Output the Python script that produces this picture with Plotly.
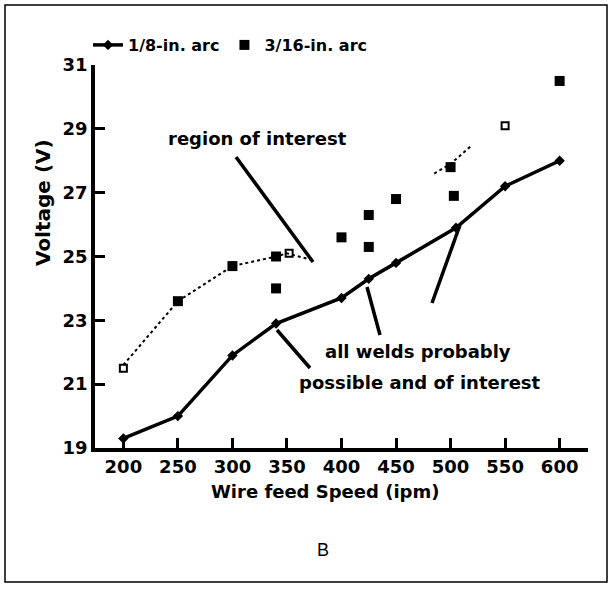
import plotly.graph_objects as go

# 1/8-in. arc (solid line with markers)
arc18_speed = [200, 250, 300, 340, 400, 425, 450, 505, 550, 600]
arc18_volt = [19.3, 20.0, 21.9, 22.9, 23.7, 24.3, 24.8, 25.9, 27.2, 28.0]

# 3/16-in. arc (filled square markers)
arc316_speed = [250, 300, 340, 340, 400, 425, 425, 450, 500, 503, 600]
arc316_volt = [23.6, 24.7, 25.0, 24.0, 25.6, 26.3, 25.3, 26.8, 27.8, 26.9, 30.5]
# 3/16-in. arc (small open squares)
arc316o_speed = [200, 352, 550]
arc316o_volt = [21.5, 25.1, 29.1]

# dotted boundary of region of interest
bound_speed = [200, 250, 300, 340, 350, 372]
bound_volt = [21.6, 23.6, 24.7, 25.0, 25.1, 24.9]
bound2_speed = [485, 500, 520]
bound2_volt = [27.6, 27.9, 28.5]

x_ticks = [200, 250, 300, 350, 400, 450, 500, 550, 600]
y_ticks = [19, 21, 23, 25, 27, 29, 31]

FONT = "DejaVu Sans"
L, T, W, H = 95, 65, 493, 383


def px(x):
    return (x - L) / W


def py(y):
    return (T + H - y) / H


fig = go.Figure()
fig.add_trace(go.Scatter(
    x=bound_speed, y=bound_volt, mode="lines", showlegend=False,
    line=dict(color="black", width=2, dash="dot"), hoverinfo="skip"))
fig.add_trace(go.Scatter(
    x=bound2_speed, y=bound2_volt, mode="lines", showlegend=False,
    line=dict(color="black", width=2, dash="dot"), hoverinfo="skip"))
fig.add_trace(go.Scatter(
    x=arc18_speed, y=arc18_volt, mode="lines+markers", name="<b>1/8-in. arc</b>",
    line=dict(color="black", width=3.5),
    marker=dict(symbol="diamond", size=8, color="black", opacity=1)))
fig.add_trace(go.Scatter(
    x=arc316_speed, y=arc316_volt, mode="markers", name="<b>3/16-in. arc</b>",
    marker=dict(symbol="square", size=10, color="black", opacity=1)))
fig.add_trace(go.Scatter(
    x=arc316o_speed, y=arc316o_volt, mode="markers", showlegend=False,
    marker=dict(symbol="square-open", size=7, color="black", opacity=1,
                line=dict(color="black", width=2))))

# pointer lines
for (tx, ty, hx, hy) in [(236, 157, 313, 262), (310, 368, 277, 330),
                         (380, 335, 367, 287), (432, 303, 460, 225)]:
    fig.add_shape(type="line", xref="paper", yref="paper",
                  x0=px(tx), y0=py(ty), x1=px(hx), y1=py(hy),
                  line=dict(color="black", width=3.5))


def label(x, y, text, size, angle=0, family=FONT):
    fig.add_annotation(xref="paper", yref="paper", x=px(x), y=py(y),
                       xanchor="center", yanchor="middle", textangle=angle,
                       text=text, showarrow=False,
                       font=dict(family=family, size=size, color="black"))


label(257, 138, "<b>region of interest</b>", 18)
label(418, 351, "<b>all welds probably</b>", 18)
label(420, 382, "<b>possible and of interest</b>", 18)
label(323, 550, "B", 18, family="Liberation Sans")
label(43, 203, "<b>Voltage (V)</b>", 20, angle=-90)
label(325, 492, "<b>Wire feed Speed (ipm)</b>", 18)

# outer frame
fig.add_shape(type="rect", xref="paper", yref="paper",
              x0=px(5), x1=px(607), y0=py(582), y1=py(5),
              line=dict(color="black", width=1.5))

fig.update_layout(
    width=613, height=591,
    margin=dict(l=L, r=613 - L - W, t=T, b=591 - T - H, autoexpand=False),
    paper_bgcolor="white", plot_bgcolor="white",
    font=dict(family=FONT, color="black"),
    showlegend=True,
    legend=dict(orientation="h", x=px(88), y=py(45), xanchor="left", yanchor="middle",
                font=dict(family=FONT, size=16, color="black"),
                tracegroupgap=0, bgcolor="rgba(0,0,0,0)"),
    xaxis=dict(range=[174, 626], tickvals=x_ticks, ticktext=["<b>%d</b>" % v for v in x_ticks],
               showgrid=False, zeroline=False, showline=True, linecolor="black", linewidth=3.5,
               ticks="inside", ticklen=10, tickwidth=3, tickcolor="black",
               tickfont=dict(family=FONT, size=18, color="black")),
    yaxis=dict(range=[19, 31], tickvals=y_ticks, ticktext=["<b>%d</b>" % v for v in y_ticks],
               showgrid=False, zeroline=False, showline=True, linecolor="black", linewidth=3.5,
               ticks="inside", ticklen=10, tickwidth=3, tickcolor="black",
               tickfont=dict(family=FONT, size=18, color="black")),
)

fig.write_html("out.html", config={"displayModeBar": False},
               post_script="document.body.style.margin='0';")
